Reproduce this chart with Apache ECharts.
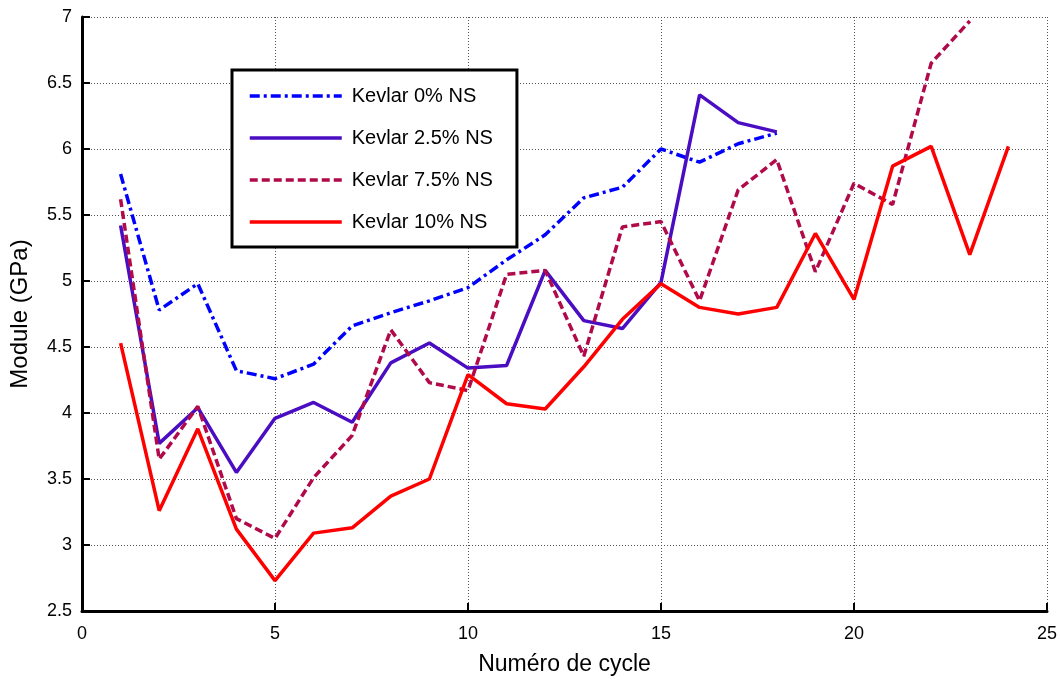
<!DOCTYPE html>
<html>
<head>
<meta charset="utf-8">
<script src="https://cdn.jsdelivr.net/npm/echarts@6/dist/echarts.min.js"></script>
<style>
html,body{margin:0;padding:0;background:#fff;}
#c{width:1060px;height:681px;}
</style>
</head>
<body>
<div id="c"></div>
<script>
const cycles = [1,2,3,4,5,6,7,8,9,10,11,12,13,14,15,16,17,18,19,20,21,22,23,24];
const seriesNames = ['Kevlar 0% NS','Kevlar 2.5% NS','Kevlar 7.5% NS','Kevlar 10% NS'];
const kevlar0 = [5.81,4.78,4.98,4.32,4.26,4.37,4.66,4.76,4.85,4.95,5.16,5.35,5.63,5.71,6.0,5.9,6.04,6.12];
const kevlar25 = [5.42,3.77,4.04,3.55,3.96,4.08,3.93,4.38,4.53,4.34,4.36,5.08,4.70,4.64,4.99,6.41,6.20,6.13];
const kevlar75 = [5.62,3.65,4.05,3.20,3.05,3.51,3.83,4.63,4.23,4.17,5.05,5.08,4.43,5.41,5.45,4.85,5.69,5.92,5.07,5.74,5.58,6.65,6.97];
const kevlar10 = [4.53,3.26,3.88,3.12,2.73,3.09,3.13,3.37,3.50,4.29,4.07,4.03,4.35,4.71,4.98,4.80,4.75,4.80,5.36,4.86,5.87,6.02,5.20,6.02];
const xTicks = [0,5,10,15,20,25];
const yTicks = [2.5,3,3.5,4,4.5,5,5.5,6,6.5,7];

function pairs(vals){ return vals.map((v,i)=>[cycles[i], v]); }

const font = "'Liberation Sans',Arial,Helvetica,sans-serif";
const chart = echarts.init(document.getElementById('c'), null, {renderer:'canvas'});
const lw = 3.5;
chart.setOption({
  animation:false,
  backgroundColor:'#fff',
  grid:{left:82,right:13,top:17,bottom:69,containLabel:false},
  legend:{
    orient:'vertical',
    left:232, top:70,
    padding:[16,24,15,16],
    itemGap:22,
    itemWidth:92,
    itemHeight:14,
    backgroundColor:'#fff',
    borderColor:'#000',
    borderWidth:3,
    borderRadius:0,
    itemStyle:{opacity:0,borderWidth:0},
    lineStyle:{width:lw},
    textStyle:{fontSize:20,color:'#000',fontFamily:font,padding:[0,0,0,5]},
    data:seriesNames
  },
  xAxis:{
    type:'value', min:xTicks[0], max:xTicks[xTicks.length-1], interval:5,
    axisLine:{show:true,onZero:false,lineStyle:{color:'#000',width:3}},
    axisTick:{show:true,inside:true,length:8,lineStyle:{color:'#000',width:2}},
    axisLabel:{fontSize:18,color:'#000',margin:14,fontFamily:font},
    splitLine:{show:true,lineStyle:{color:'#555',type:[1,2],width:1}},
    name:'Numéro de cycle', nameLocation:'middle', nameGap:42,
    nameTextStyle:{fontSize:23,color:'#000',fontFamily:font}
  },
  yAxis:{
    type:'value', min:yTicks[0], max:yTicks[yTicks.length-1], interval:0.5,
    axisLine:{show:true,onZero:false,lineStyle:{color:'#000',width:3}},
    axisTick:{show:true,inside:true,length:8,lineStyle:{color:'#000',width:2}},
    axisLabel:{fontSize:18,color:'#000',margin:10,fontFamily:font},
    splitLine:{show:true,lineStyle:{color:'#555',type:[1,2],width:1}},
    name:'Module (GPa)', nameLocation:'middle', nameGap:50,
    nameTextStyle:{fontSize:24,color:'#000',fontFamily:font}
  },
  series:[
    {name:seriesNames[0],type:'line',data:pairs(kevlar0),symbol:'none',
     lineStyle:{color:'#0000ff',width:lw,type:[10,4,3,4]},itemStyle:{color:'#0000ff'}},
    {name:seriesNames[1],type:'line',data:pairs(kevlar25),symbol:'none',
     lineStyle:{color:'#4a0dc2',width:lw,type:'solid'},itemStyle:{color:'#4a0dc2'}},
    {name:seriesNames[2],type:'line',data:pairs(kevlar75),symbol:'none',
     lineStyle:{color:'#b10a4a',width:lw,type:[8,4]},itemStyle:{color:'#b10a4a'}},
    {name:seriesNames[3],type:'line',data:pairs(kevlar10),symbol:'none',
     lineStyle:{color:'#ff0000',width:lw,type:'solid'},itemStyle:{color:'#ff0000'}}
  ]
});
</script>
</body>
</html>
